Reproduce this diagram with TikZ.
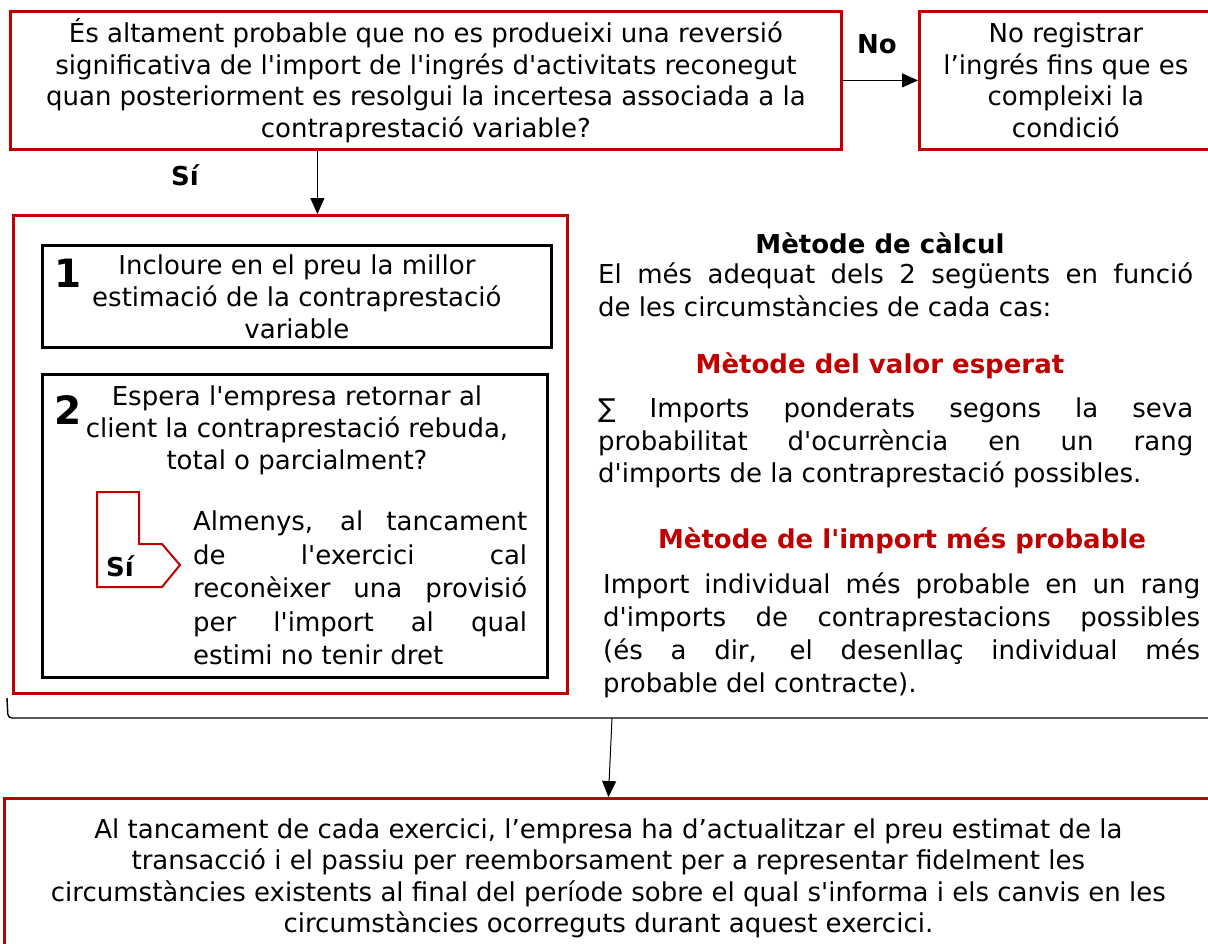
\documentclass[tikz,border=0pt]{standalone}
\usepackage{fontspec}
\setmainfont{DejaVu Sans}[Ligatures=TeXOff]
\usetikzlibrary{arrows.meta}
\definecolor{dred}{HTML}{C00000}
\begin{document}
\begin{tikzpicture}[x=1pt,y=-1pt,
  txt/.style={font=\fontsize{26}{31.5}\selectfont, inner sep=0pt},
  bold/.style={font=\fontsize{26}{31.5}\selectfont\bfseries, inner sep=0pt},
  rbold/.style={bold, text=dred},
  num/.style={font=\fontsize{39}{39}\selectfont\bfseries, inner sep=0pt},
  redbox/.style={draw=dred, line width=2.8pt, inner sep=0pt, anchor=north west},
  blkbox/.style={draw=black, line width=2.8pt, inner sep=0pt, anchor=north west},
  arr/.style={-{Triangle[length=16pt,width=14pt]}, line width=1pt}]
\useasboundingbox (0,0) rectangle (1208,943);
% top question
\node[redbox, txt, align=center, minimum width=831pt, minimum height=138pt] (q) at (9,10)
 {És altament probable que no es produeixi una reversió\\
  significativa de l'import de l'ingrés d'activitats reconegut\\
  quan posteriorment es resolgui la incertesa associada a la\\
  contraprestació variable?};
\node[redbox, txt, align=center, minimum width=293pt, minimum height=138pt] (nb) at (918,10)
 {No registrar\\ l’ingrés fins que es\\ compleixi la\\ condició};
\draw[arr] (q.east) -- (nb.west);
\node[bold] (no) at (877,44) {No};
\node[bold] (si1) at (185,175) {Sí};
% big box
\node[redbox, minimum width=554pt, minimum height=478pt] (big) at (12,214) {};
\draw[arr] ([xshift=27pt]big.north |- q.south) -- ([xshift=27pt]big.north);
% box 1
\node[blkbox, txt, align=center, font=\fontsize{26}{32}\selectfont, minimum width=509pt, minimum height=102pt] (b1) at (41,244)
 {Incloure en el preu la millor\\ estimació de la contraprestació\\ variable};
\node[num] (n1) at (68,273) {1};
% box 2
\node[blkbox, minimum width=505pt, minimum height=303pt] (b2) at (41,373) {};
\node[txt, align=center, anchor=north, font=\fontsize{26}{32}\selectfont] (b2t) at (297,386)
 {Espera l'empresa retornar al\\ client la contraprestació rebuda,\\ total o parcialment?};
\node[num] (n2) at (68,410) {2};
\draw[dred, line width=2pt] (97,492) -- (139,492) -- (139,544) -- (162,544) -- (180,565)
  -- (162,587) -- (97,587) -- cycle;
\node[bold] (si2) at (120,566) {Sí};
\node[txt, align=left, anchor=north west, font=\fontsize{26}{33.5}\selectfont] (alm) at (193,511)
 {\makebox[334pt][s]{Almenys, al tancament}\\
  \makebox[334pt][s]{de l'exercici cal}\\
  \makebox[334pt][s]{reconèixer una provisió}\\
  \makebox[334pt][s]{per l'import al qual}\\
  estimi no tenir dret};
% right column
\node[bold] (mc) at (880,243) {Mètode de càlcul};
\node[txt, align=left, anchor=north west, font=\fontsize{26}{33}\selectfont] (p1) at (598,262)
 {\makebox[595pt][s]{El més adequat dels 2 següents en funció}\\
  de les circumstàncies de cada cas:};
\node[rbold] (m1) at (880,366) {Mètode del valor esperat};
\node[txt, align=left, anchor=north west, font=\fontsize{26}{32.5}\selectfont] (p2) at (598,398)
 {\makebox[595pt][s]{∑ Imports ponderats segons la seva}\\
  \makebox[595pt][s]{probabilitat d'ocurrència en un rang}\\
  d'imports de la contraprestació possibles.};
\node[rbold] (m2) at (902,541) {Mètode de l'import més probable};
\node[txt, align=left, anchor=north west, font=\fontsize{26}{33}\selectfont] (p3) at (603,572)
 {\makebox[597pt][s]{Import individual més probable en un rang}\\
  \makebox[597pt][s]{d'imports de contraprestacions possibles}\\
  \makebox[597pt][s]{(és a dir, el desenllaç individual més}\\
  probable del contracte).};
% bracket
\coordinate (bl) at (7,698);
\coordinate (bc) at (8,718);
\coordinate (bm) at (612,718);
\coordinate (br) at (1210,718);
\draw[line width=1.4pt, rounded corners=4pt] (bl) -- (bc) -- (br);
% bottom box
\node[redbox, txt, align=center, minimum width=1208pt, minimum height=160pt] (bot) at (3,797)
 {Al tancament de cada exercici, l’empresa ha d’actualitzar el preu estimat de la\\
  transacció i el passiu per reemborsament per a representar fidelment les\\
  circumstàncies existents al final del període sobre el qual s'informa i els canvis en les\\
  circumstàncies ocorreguts durant aquest exercici.};
\draw[arr] (bm) -- (bot.north);
\end{tikzpicture}
\end{document}
